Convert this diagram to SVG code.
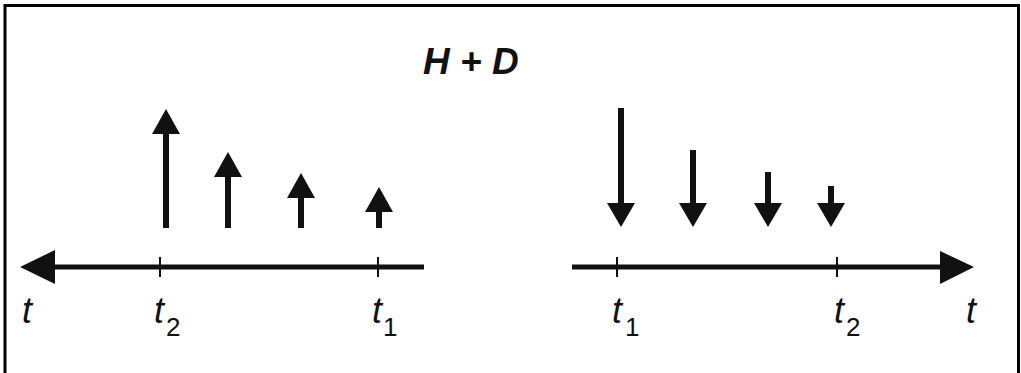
<svg xmlns="http://www.w3.org/2000/svg" width="1021" height="373" viewBox="0 0 1021 373">
<style>
.ax{stroke:#111;stroke-width:5;fill:none}
.tk{stroke:#111;stroke-width:2}
.sh{stroke:#111;stroke-width:6}
.hd{fill:#111}
.lb{font-family:"Liberation Sans",Arial,sans-serif;font-style:italic;font-size:36px;fill:#111}
.sb{font-family:"Liberation Sans",Arial,sans-serif;font-size:26px;fill:#111}
.tt{font-family:"Liberation Sans",Arial,sans-serif;font-style:italic;font-weight:bold;font-size:37px;fill:#111}
</style>
<rect width="1021" height="373" fill="#fff"/>
<path d="M5,373 V5.5 H1018.5 V373" stroke="#000" stroke-width="3" fill="none"/>
<text id="title" class="tt" x="423" y="74">H + D</text>
<g id="left-axis">
<line class="ax" x1="50" y1="267" x2="424" y2="267"/>
<polygon class="hd" points="20,267 55,250 55,284"/>
<line class="tk" x1="160" y1="257" x2="160" y2="277"/>
<line class="tk" x1="378" y1="257" x2="378" y2="277"/>
</g>
<g id="left-arrows">
<line class="sh" x1="166" y1="228" x2="166" y2="130"/><polygon class="hd" points="166,109 152,134 180,134"/>
<line class="sh" x1="228" y1="228" x2="228" y2="173"/><polygon class="hd" points="228,152 214,177 242,177"/>
<line class="sh" x1="301" y1="228" x2="301" y2="194"/><polygon class="hd" points="301,173 287,198 315,198"/>
<line class="sh" x1="379" y1="228" x2="379" y2="208"/><polygon class="hd" points="379,187 365,212 393,212"/>
</g>
<g id="left-labels">
<text class="lb" x="22" y="323">t</text>
<text class="lb" x="154" y="323">t</text><text class="sb" x="166" y="336">2</text>
<text class="lb" x="372" y="323">t</text><text class="sb" x="383" y="336">1</text>
</g>
<g id="right-axis">
<line class="ax" x1="572" y1="267" x2="945" y2="267"/>
<polygon class="hd" points="974,267 940,251 940,284"/>
<line class="tk" x1="617" y1="257" x2="617" y2="277"/>
<line class="tk" x1="837" y1="257" x2="837" y2="277"/>
</g>
<g id="right-arrows">
<line class="sh" x1="621" y1="108" x2="621" y2="207"/><polygon class="hd" points="621,227 607,203 635,203"/>
<line class="sh" x1="693" y1="150" x2="693" y2="207"/><polygon class="hd" points="693,227 679,203 707,203"/>
<line class="sh" x1="768" y1="172" x2="768" y2="207"/><polygon class="hd" points="768,227 754,203 782,203"/>
<line class="sh" x1="831" y1="186" x2="831" y2="207"/><polygon class="hd" points="831,227 817,203 845,203"/>
</g>
<g id="right-labels">
<text class="lb" x="612" y="323">t</text><text class="sb" x="625" y="336">1</text>
<text class="lb" x="834" y="323">t</text><text class="sb" x="846" y="336">2</text>
<text class="lb" x="966" y="323">t</text>
</g>
</svg>
